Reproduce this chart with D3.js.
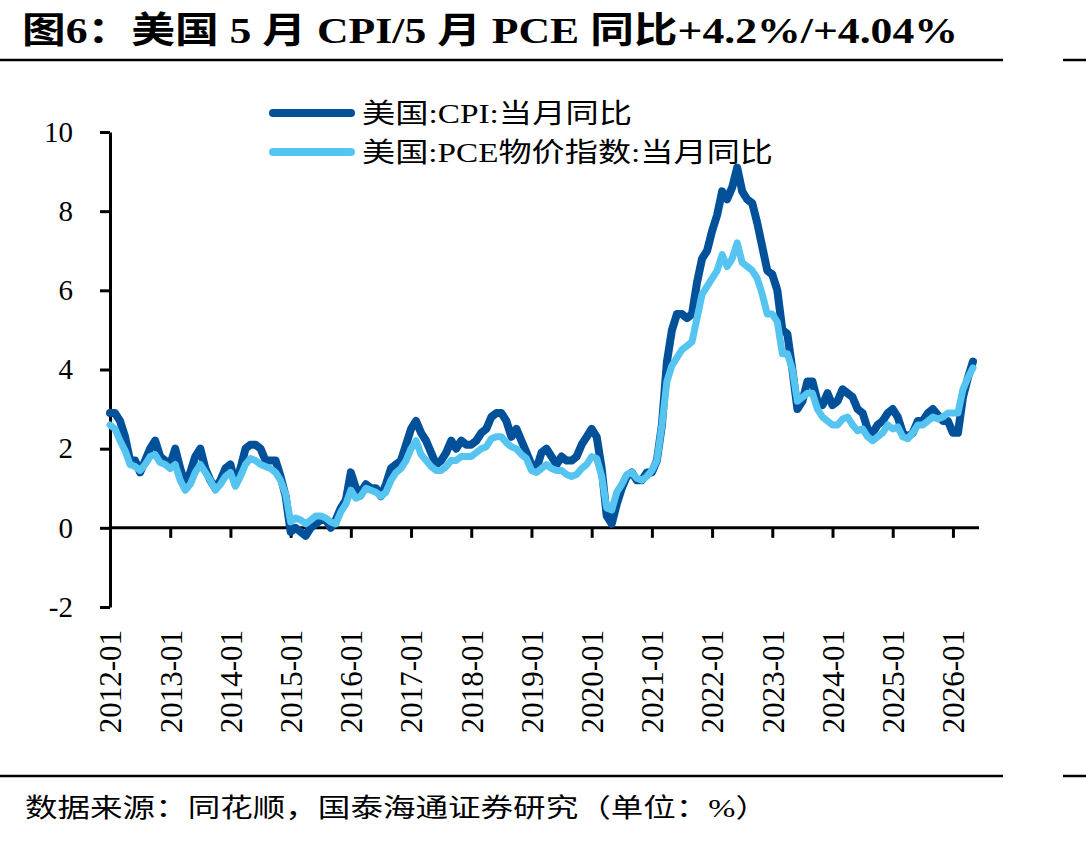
<!DOCTYPE html>
<html>
<head>
<meta charset="utf-8">
<script src="https://cdn.jsdelivr.net/npm/d3@7"></script>
<style>
  html, body { margin: 0; padding: 0; background: #fff; }
  svg { display: block; }
  .serif { font-family: "Liberation Serif", "Noto Sans CJK SC", serif; }
</style>
</head>
<body>
<svg id="chart" width="1086" height="843"></svg>
<script>
// series, monthly from 2012-01 to 2026-05
const cpiYoY = [
  2.9, 2.9, 2.7, 2.3, 1.7, 1.7, 1.4, 1.7, 2.0, 2.2, 1.8, 1.7,
  1.6, 2.0, 1.5, 1.1, 1.4, 1.8, 2.0, 1.5, 1.2, 1.0, 1.2, 1.5,
  1.6, 1.1, 1.5, 2.0, 2.1, 2.1, 2.0, 1.7, 1.7, 1.7, 1.3, 0.8,
  -0.1, 0.0, -0.1, -0.2, 0.0, 0.1, 0.2, 0.2, 0.0, 0.2, 0.5, 0.7,
  1.4, 1.0, 0.9, 1.1, 1.0, 1.0, 0.8, 1.1, 1.5, 1.6, 1.7, 2.1,
  2.5, 2.7, 2.4, 2.2, 1.9, 1.6, 1.7, 1.9, 2.2, 2.0, 2.2, 2.1,
  2.1, 2.2, 2.4, 2.5, 2.8, 2.9, 2.9, 2.7, 2.3, 2.5, 2.2, 1.9,
  1.6, 1.5, 1.9, 2.0, 1.8, 1.6, 1.8, 1.7, 1.7, 1.8, 2.1, 2.3,
  2.5, 2.3, 1.5, 0.3, 0.1, 0.6, 1.0, 1.3, 1.4, 1.2, 1.2, 1.4,
  1.4, 1.7, 2.6, 4.2, 5.0, 5.4, 5.4, 5.3, 5.4, 6.2, 6.8, 7.0,
  7.5, 7.9, 8.5, 8.3, 8.6, 9.1, 8.5, 8.3, 8.2, 7.7, 7.1, 6.5,
  6.4, 6.0, 5.0, 4.9, 4.0, 3.0, 3.2, 3.7, 3.7, 3.2, 3.1, 3.4,
  3.1, 3.2, 3.5, 3.4, 3.3, 3.0, 2.9, 2.5, 2.4, 2.6, 2.7, 2.9,
  3.0, 2.8, 2.4, 2.3, 2.4, 2.7, 2.7, 2.9, 3.0, 2.85, 2.7, 2.7,
  2.4, 2.4, 3.3, 3.8, 4.2
];
const pceYoY = [
  2.6, 2.5, 2.2, 1.95, 1.6, 1.55, 1.45, 1.6, 1.8, 1.85, 1.65, 1.6,
  1.5, 1.6, 1.2, 0.95, 1.1, 1.4, 1.6, 1.4, 1.2, 0.95, 1.1, 1.3,
  1.4, 1.05, 1.3, 1.6, 1.75, 1.7, 1.6, 1.55, 1.5, 1.4, 1.2, 0.85,
  0.15, 0.25, 0.2, 0.1, 0.2, 0.3, 0.3, 0.25, 0.15, 0.1, 0.4, 0.6,
  0.95, 0.75, 0.8, 1.0, 0.95, 0.9, 0.8, 0.9, 1.2, 1.4, 1.5, 1.7,
  2.0, 2.2, 1.85, 1.7, 1.55, 1.45, 1.45, 1.55, 1.7, 1.7, 1.8, 1.8,
  1.8, 1.9, 2.0, 2.05, 2.25, 2.3, 2.3, 2.15, 2.05, 2.0, 1.85, 1.75,
  1.45, 1.4, 1.5, 1.6, 1.5, 1.45, 1.45, 1.35, 1.3, 1.35, 1.5, 1.6,
  1.8, 1.75, 1.3, 0.5, 0.45, 0.9, 1.1, 1.35, 1.4, 1.25, 1.2, 1.3,
  1.45, 1.7, 2.6, 3.7, 4.1, 4.3, 4.5, 4.6, 4.7, 5.3, 5.9, 6.1,
  6.3, 6.5, 6.9, 6.6, 6.8, 7.2, 6.7, 6.6, 6.5, 6.3, 5.9, 5.4,
  5.4, 5.2, 4.4, 4.4, 4.0, 3.2, 3.3, 3.4, 3.4, 3.0, 2.8, 2.7,
  2.6, 2.6, 2.75, 2.8, 2.6, 2.45, 2.5, 2.3, 2.2, 2.3, 2.4, 2.6,
  2.5, 2.55, 2.3, 2.25, 2.4, 2.6, 2.6, 2.7, 2.8, 2.75, 2.8, 2.9,
  2.9, 2.9, 3.5, 3.8, 4.04
];
const xTickLabels = ['2012-01', '2013-01', '2014-01', '2015-01', '2016-01', '2017-01', '2018-01',
  '2019-01', '2020-01', '2021-01', '2022-01', '2023-01', '2024-01', '2025-01', '2026-01'];
const yTicks = [-2, 0, 2, 4, 6, 8, 10];
const seriesNames = ['美国:CPI:当月同比', '美国:PCE物价指数:当月同比'];

const titleText = '图6：美国 5 月 CPI/5 月 PCE 同比+4.2%/+4.04%';
const sourceText = '数据来源：同花顺，国泰海通证券研究（单位：%）';

const colors = { cpi: '#00519a', pce: '#55c4f1' };

const svg = d3.select('#chart');
svg.append('rect').attr('width', 1086).attr('height', 843).attr('fill', '#fff');

// months as categories
const fmt = d3.timeFormat('%Y-%m');
const months = d3.timeMonth.range(new Date(2012, 0, 1), new Date(2026, 5, 1)).map(fmt);

const x = d3.scalePoint().domain(months).range([110, 973]);
const y = d3.scaleLinear().domain([-2, 10]).range([607, 132]);

// title and rules
svg.append('text').attr('class', 'serif')
  .attr('x', 22).attr('y', 43)
  .attr('font-size', 36).attr('font-weight', 'bold')
  .attr('textLength', 936).attr('lengthAdjust', 'spacingAndGlyphs')
  .text(titleText);

[60, 776].forEach(yy => {
  svg.append('line').attr('x1', 0).attr('x2', 1003).attr('y1', yy).attr('y2', yy)
    .attr('stroke', '#000').attr('stroke-width', 2.5);
  svg.append('line').attr('x1', 1063).attr('x2', 1086).attr('y1', yy).attr('y2', yy)
    .attr('stroke', '#000').attr('stroke-width', 2.5);
});

svg.append('text').attr('class', 'serif')
  .attr('x', 25).attr('y', 817)
  .attr('font-size', 26)
  .attr('textLength', 743).attr('lengthAdjust', 'spacingAndGlyphs')
  .text(sourceText);

// y axis, plain hyphen for negatives
const yAxis = d3.axisLeft(y)
  .tickValues(yTicks)
  .tickFormat(d => String(d))
  .tickSize(10)
  .tickSizeOuter(0)
  .tickPadding(27);
const gy = svg.append('g').attr('transform', 'translate(110,0)').call(yAxis);
gy.select('.domain').attr('stroke', '#000').attr('stroke-width', 3);
gy.selectAll('.tick line').attr('stroke', '#000').attr('stroke-width', 3);
gy.selectAll('.tick text').attr('class', 'serif').attr('font-size', 29).attr('fill', '#000');

// x axis sits on zero
const xAxis = d3.axisBottom(x)
  .tickValues(xTickLabels)
  .tickSize(10)
  .tickSizeOuter(0);
const gx = svg.append('g').attr('transform', `translate(0,${y(0)})`).call(xAxis);
gx.select('.domain').remove();
gx.insert('line', ':first-child')
  .attr('x1', 110).attr('x2', 979).attr('y1', 0).attr('y2', 0)
  .attr('stroke', '#000').attr('stroke-width', 3);
gx.selectAll('.tick line').attr('stroke', '#000').attr('stroke-width', 3);
gx.selectAll('.tick text')
  .attr('class', 'serif')
  .attr('font-size', 31)
  .attr('fill', '#000')
  .attr('transform', 'rotate(-90)')
  .attr('text-anchor', 'end')
  .attr('x', -(630 - y(0)))
  .attr('y', 0)
  .attr('dy', '0.35em');

// lines
const line = d3.line()
  .x((d, i) => x(months[i]))
  .y(d => y(d));

svg.append('path').datum(cpiYoY)
  .attr('d', line)
  .attr('fill', 'none')
  .attr('stroke', colors.cpi)
  .attr('stroke-width', 8)
  .attr('stroke-linejoin', 'round')
  .attr('stroke-linecap', 'round');

svg.append('path').datum(pceYoY)
  .attr('d', line)
  .attr('fill', 'none')
  .attr('stroke', colors.pce)
  .attr('stroke-width', 7)
  .attr('stroke-linejoin', 'round')
  .attr('stroke-linecap', 'round');

// legend
const legend = svg.append('g');
const legendRows = [
  { name: seriesNames[0], color: colors.cpi, y: 113, w: 270 },
  { name: seriesNames[1], color: colors.pce, y: 152, w: 411 }
];
legendRows.forEach(r => {
  legend.append('line')
    .attr('x1', 273).attr('x2', 351).attr('y1', r.y).attr('y2', r.y)
    .attr('stroke', r.color).attr('stroke-width', 8).attr('stroke-linecap', 'round');
  legend.append('text').attr('class', 'serif')
    .attr('x', 362).attr('y', r.y + 10)
    .attr('font-size', 27)
    .attr('textLength', r.w).attr('lengthAdjust', 'spacingAndGlyphs')
    .text(r.name);
});
</script>
</body>
</html>
